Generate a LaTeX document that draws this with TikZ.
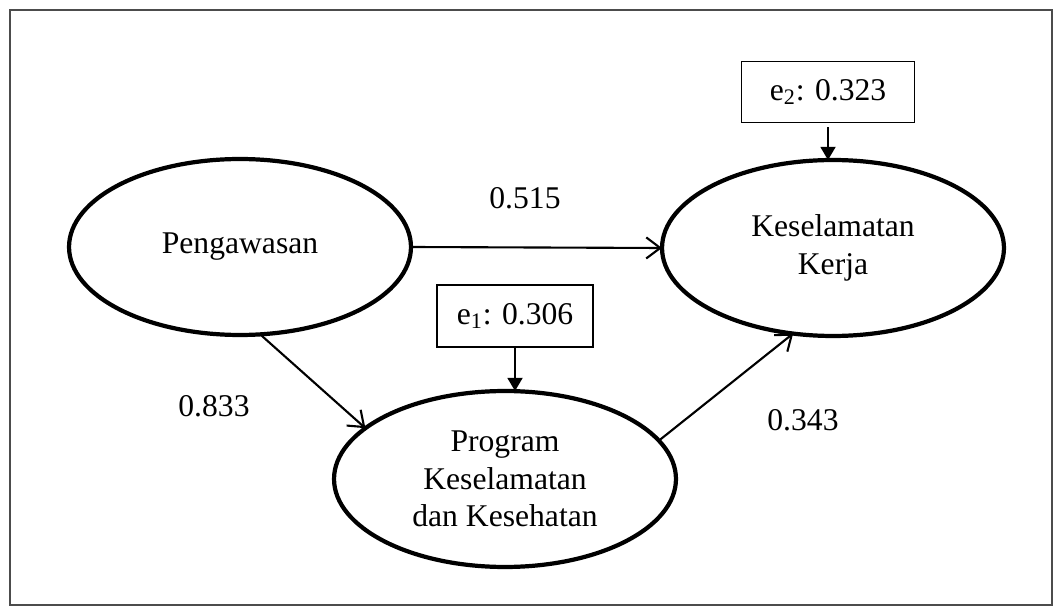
\documentclass[tikz,border=0pt]{standalone}
\usepackage{fontspec}
\setmainfont{Liberation Serif}
\usetikzlibrary{shapes.geometric,arrows.meta}

\begin{document}
\begin{tikzpicture}[x=0.02cm,y=-0.02cm,font=\fontsize{18}{21.5}\selectfont,
  latent/.style={ellipse,draw,line width=2.4pt,inner sep=0pt,outer sep=0pt,
    minimum width=6.84cm,minimum height=3.52cm,align=center},
  errbox/.style={rectangle,draw,line width=0.9pt,inner sep=0pt,outer sep=0pt},
  pathline/.style={line width=1.2pt,-{Straight Barb[length=8pt,width=12pt]}},
  errline/.style={line width=1.2pt,-{Triangle[length=7.5pt,width=8.5pt]}}]
\useasboundingbox (0,0) rectangle (1054,607);
\draw[black!70,line width=0.9pt] (10,10) rectangle (1052,605);
\node[latent] (peng) at (240,247) {Pengawasan};
\node[latent] (kk) at (833,248) {Keselamatan\\Kerja};
\node[latent] (prog) at (505,479) {Program\\Keselamatan\\dan Kesehatan};
\node[errbox,minimum width=3.12cm,minimum height=1.24cm] (e1) at (515,316) {e\textsubscript{1}: 0.306};
\node[errbox,minimum width=3.46cm,minimum height=1.22cm] (e2) at (828,92) {e\textsubscript{2}: 0.323};
\node (w1) at (525,198) {0.515};
\node (w2) at (214,406) {0.833};
\node (w3) at (803,420) {0.343};
\draw[pathline] (peng.east) -- (kk.west);
\draw[pathline] (peng.-77) -- (prog.160);
\draw[pathline] (prog.14) -- (kk.245);
\draw[errline] (e1.south) -- (e1.south |- prog.north);
\draw[errline,shorten <=2.8pt] (e2.south) -- (e2.south |- kk.north);
\end{tikzpicture}
\end{document}
